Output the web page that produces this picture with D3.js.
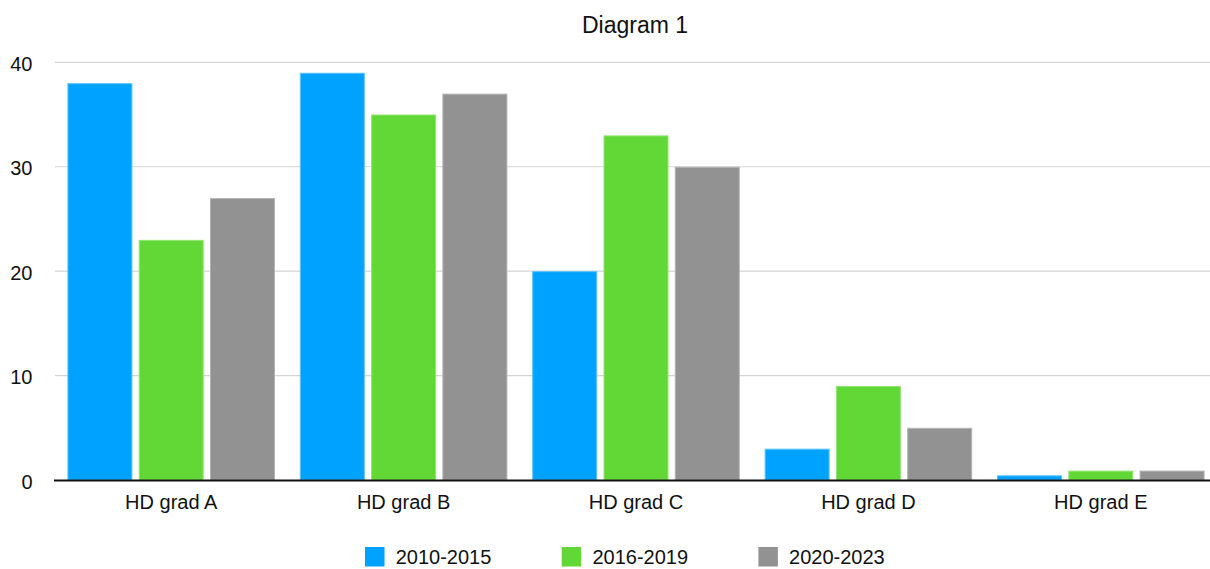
<!DOCTYPE html>
<html>
<head>
<meta charset="utf-8">
<script src="https://cdn.jsdelivr.net/npm/d3@7"></script>
<style>
  html, body { margin: 0; padding: 0; background: #fff; }
  svg { display: block; font-family: "Liberation Sans", Arial, Helvetica, sans-serif; }
</style>
</head>
<body>
<svg id="chart" width="1210" height="569"></svg>
<script>
const title = "Diagram 1";
const categories = ["HD grad A", "HD grad B", "HD grad C", "HD grad D", "HD grad E"];
const seriesNames = ["2010-2015", "2016-2019", "2020-2023"];
const values2010_2015 = [38, 39, 20, 3, 0.45];
const values2016_2019 = [23, 35, 33, 9, 0.9];
const values2020_2023 = [27, 37, 30, 5, 0.9];
const yTicks = [0, 10, 20, 30, 40];
const colors = ["#00A2FF", "#61D836", "#929292"];
const strokes = ["#5cc4ff", "#93e673", "#b4b4b4"];

const seriesValues = [values2010_2015, values2016_2019, values2020_2023];

(function () {
const svg = d3.select("#chart");
const mLeft = 55, mRight = 1217, mTop = 62.3, mBottom = 480;

const x0 = d3.scaleBand().domain(categories).range([mLeft, mRight]).padding(0);
const x1 = d3.scaleBand().domain(seriesNames).range([0, x0.bandwidth()])
  .paddingInner(0.088).paddingOuter(0.174);
const y = d3.scaleLinear().domain([0, 40]).range([mBottom, mTop]);

// gridlines
svg.append("g").selectAll("line").data(yTicks.filter(d => d > 0)).join("line")
  .attr("x1", mLeft).attr("x2", 1210)
  .attr("y1", d => y(d)).attr("y2", d => y(d))
  .attr("stroke", "#d5d5d5").attr("stroke-width", 1.2);

// y tick labels
svg.append("g").selectAll("text").data(yTicks).join("text")
  .attr("x", 32.5).attr("y", d => y(d)).attr("dy", 8.5)
  .attr("text-anchor", "end").attr("font-size", 20).attr("fill", "#111")
  .text(d => d);

// bars
const groups = svg.append("g").selectAll("g").data(categories).join("g")
  .attr("transform", d => `translate(${x0(d)},0)`);
groups.selectAll("rect")
  .data((c, i) => seriesNames.map((s, j) => ({ s, j, v: seriesValues[j][i] })))
  .join("rect")
  .attr("x", d => x1(d.s) + 0.5)
  .attr("width", x1.bandwidth() - 1)
  .attr("y", d => y(d.v) + 0.5)
  .attr("height", d => y(0) - y(d.v) - 0.5)
  .attr("fill", d => colors[d.j])
  .attr("stroke", d => strokes[d.j])
  .attr("stroke-width", 1);

// baseline
svg.append("line").attr("x1", mLeft - 1).attr("x2", 1210)
  .attr("y1", y(0) + 0.5).attr("y2", y(0) + 0.5)
  .attr("stroke", "#111").attr("stroke-width", 2);

// category labels
svg.append("g").selectAll("text").data(categories).join("text")
  .attr("x", d => x0(d) + x0.bandwidth() / 2)
  .attr("y", 509)
  .attr("text-anchor", "middle").attr("font-size", 20).attr("fill", "#111")
  .text(d => d);

// title
svg.append("text").attr("x", (mLeft + mRight) / 2 - 1).attr("y", 33.3)
  .attr("text-anchor", "middle").attr("font-size", 23).attr("fill", "#111")
  .text(title);

// legend
const legend = svg.append("g").selectAll("g").data(seriesNames).join("g")
  .attr("transform", (d, i) => `translate(${365 + i * 196.7},547)`);
legend.append("rect").attr("width", 19.5).attr("height", 19.5)
  .attr("fill", (d, i) => colors[i]);
legend.append("text").attr("x", 30.7).attr("y", 17)
  .attr("font-size", 20).attr("fill", "#111")
  .text(d => d);
})();
</script>
</body>
</html>
